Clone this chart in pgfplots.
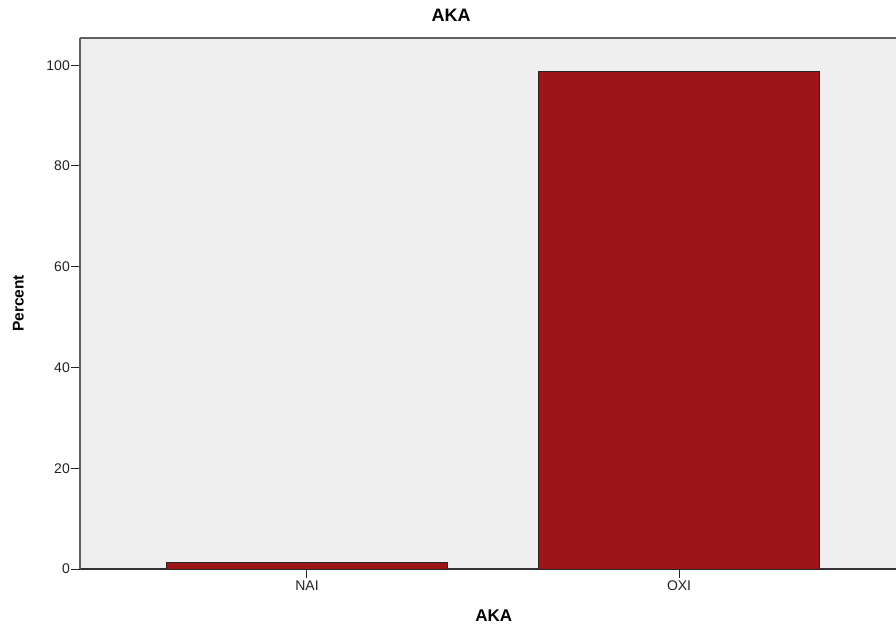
\documentclass[border=0pt]{standalone}
\usepackage{pgfplots}
\pgfplotsset{compat=1.18}
\usepackage{fontspec}
\setmainfont{Liberation Sans}
\definecolor{barred}{HTML}{9E1519}
\definecolor{bg}{HTML}{EFEFEF}
\definecolor{axgray}{HTML}{606060}
\definecolor{txt}{HTML}{222222}
\begin{document}
\begin{tikzpicture}
\begin{axis}[
  scale only axis, width=816pt, height=531pt,
  xmin=-0.61, xmax=1.583, ymin=0, ymax=105.4,
  axis background/.style={fill=bg},
  axis x line*=bottom, axis y line*=left,
  x axis line style={black!80, line width=1.2pt},
  y axis line style={axgray, line width=2pt},
  ytick={0,20,40,60,80,100},
  xtick={0,1}, xticklabels={NAI,OXI},
  tick align=outside, major tick length=9pt,
  tick style={black!85, line width=1pt},
  minor tick num=0,
  ticklabel style={font=\fontsize{14}{16}\selectfont, text=txt},
  yticklabel style={inner sep=1pt},
  xticklabel style={inner sep=2.5pt},
  /pgf/number format/assume math mode=true,
  ybar, bar width=0.753,
  title={AKA},
  title style={at={(axis description cs:0.4547,1.0202)}, anchor=base, font=\bfseries\fontsize{18}{20}\selectfont},
  xlabel={AKA},
  xlabel style={at={(axis description cs:0.507,-0.0998)}, anchor=base, font=\bfseries\fontsize{17}{19}\selectfont},
  ylabel={Percent},
  ylabel style={at={(axis description cs:-0.0754,0.5)}, anchor=center, font=\bfseries\fontsize{15.5}{18}\selectfont},
]
\addplot[fill=barred, draw=black!85, line width=1pt] coordinates {(0,1.2) (1,98.8)};
\draw[axgray, line width=2pt] (rel axis cs:0,1) -- (rel axis cs:1,1);
\coordinate (sw) at (rel axis cs:0,0);
\end{axis}
\pgfresetboundingbox
\path[use as bounding box] (sw) ++(-80pt,-55pt) rectangle ++(896pt,624pt);
\end{tikzpicture}
\end{document}
